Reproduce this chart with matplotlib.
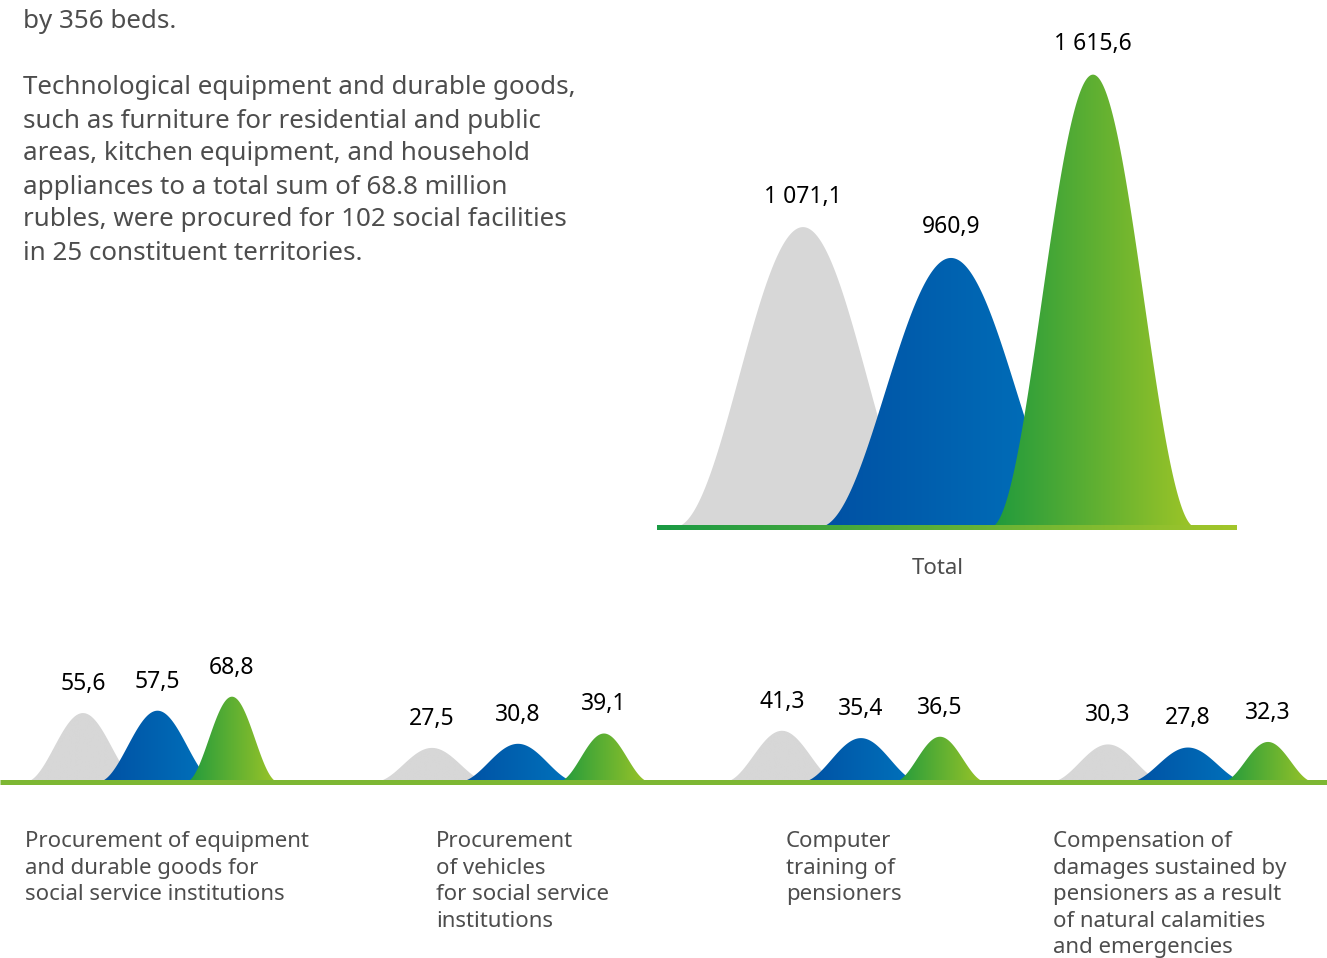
import numpy as np
import matplotlib.pyplot as plt
from matplotlib.colors import LinearSegmentedColormap

plt.rcParams['font.family'] = ['Noto Sans', 'DejaVu Sans']

# data
total_values = [1071.1, 960.9, 1615.6]
group_values = [
    [55.6, 57.5, 68.8],
    [27.5, 30.8, 39.1],
    [41.3, 35.4, 36.5],
    [30.3, 27.8, 32.3],
]
categories = [
    "Procurement of equipment\nand durable goods for\nsocial service institutions",
    "Procurement\nof vehicles\nfor social service\ninstitutions",
    "Computer\ntraining of\npensioners",
    "Compensation of\ndamages sustained by\npensioners as a result\nof natural calamities\nand emergencies",
]
intro_lines = [
    "by 356 beds.",
    "",
    "Technological equipment and durable goods,",
    "such as furniture for residential and public",
    "areas, kitchen equipment, and household",
    "appliances to a total sum of 68.8 million",
    "rubles, were procured for 102 social facilities",
    "in 25 constituent territories.",
]

W, H = 1327, 958
TEXT = '#4d4d4d'
cmaps = [
    LinearSegmentedColormap.from_list('gray', ['#d7d7d7', '#d7d7d7']),
    LinearSegmentedColormap.from_list('blue', ['#0050a3', '#0074bd']),
    LinearSegmentedColormap.from_list('green', ['#1f9a3d', '#9ec527']),
]
width_k = [1.0, 1.03, 0.8]


def fmt(v):
    return f"{v:,.1f}".replace(",", " ").replace(".", ",")


def hump(ax, c, hw, h, cmap):
    # cos^2 bell
    x = np.linspace(c - hw, c + hw, 300)
    y = h * np.cos(np.pi / 2 * (x - c) / hw) ** 2
    poly = ax.fill_between(x, 0, y, facecolor='none', edgecolor='none')
    grad = np.linspace(0, 1, 256).reshape(1, -1)
    im = ax.imshow(grad, cmap=cmap, extent=[x[0], x[-1], 0, h], aspect='auto',
                   origin='lower', zorder=2)
    im.set_clip_path(poly.get_paths()[0], transform=ax.transData)


def px_axes(left, top, right, bottom):
    return fig.add_axes([left / W, 1 - bottom / H, (right - left) / W, (bottom - top) / H])


fig = plt.figure(figsize=(W / 100, H / 100), dpi=100)

# total chart
k_top = 0.28  # px per unit
ax1 = px_axes(657, 0, 1237, 527)
ax1.axis('off')
top_x = [146, 294, 436]
for i, v in enumerate(total_values):
    hump(ax1, top_x[i], 128 * width_k[i], v, cmaps[i])
    ax1.annotate(fmt(v), (top_x[i], v), xytext=(0, 22), textcoords='offset points',
                 ha='center', va='center', fontsize=16.5, color='black')
band = np.linspace(0, 1, 256).reshape(1, -1)
ax1.imshow(band, cmap=LinearSegmentedColormap.from_list('base', ['#1a9a44', '#a3c62a']),
           extent=[0, 580, -2.5 / k_top, 2.5 / k_top], aspect='auto', clip_on=False, zorder=3)
ax1.set_xlim(0, 580)
ax1.set_ylim(0, 527 / k_top)
fig.text(938 / W, 1 - 568 / H, "Total", ha='center', va='center', fontsize=16, color=TEXT)

# small charts
k_bot = 1.24
ax2 = px_axes(0, 600, W, 782)
ax2.axis('off')
group_left = [83, 432, 782, 1108]
group_step = [74.5, 86, 79, 80]
for g, vals in enumerate(group_values):
    for i, v in enumerate(vals):
        cx = group_left[g] + i * group_step[g]
        hump(ax2, cx, 58 * width_k[i], v, cmaps[i])
        ax2.annotate(fmt(v), (cx, v), xytext=(0, 21), textcoords='offset points',
                     ha='center', va='center', fontsize=16.5, color='black')
ax2.plot([0, W], [0, 0], color='#7db733', lw=3.6, solid_capstyle='butt', clip_on=False, zorder=3)
ax2.set_xlim(0, W)
ax2.set_ylim(0, 182 / k_bot)

cat_x = [25, 436, 786, 1053]
for cx, txt in zip(cat_x, categories):
    fig.text(cx / W, 1 - 831 / H, txt, ha='left', va='top', fontsize=16,
             color=TEXT, linespacing=1.35)

for j, line in enumerate(intro_lines):
    fig.text(23 / W, 1 - (22 + 33 * j) / H, line, ha='left', va='center',
             fontsize=18.7, color=TEXT)

fig.savefig('out.png', dpi=100)
